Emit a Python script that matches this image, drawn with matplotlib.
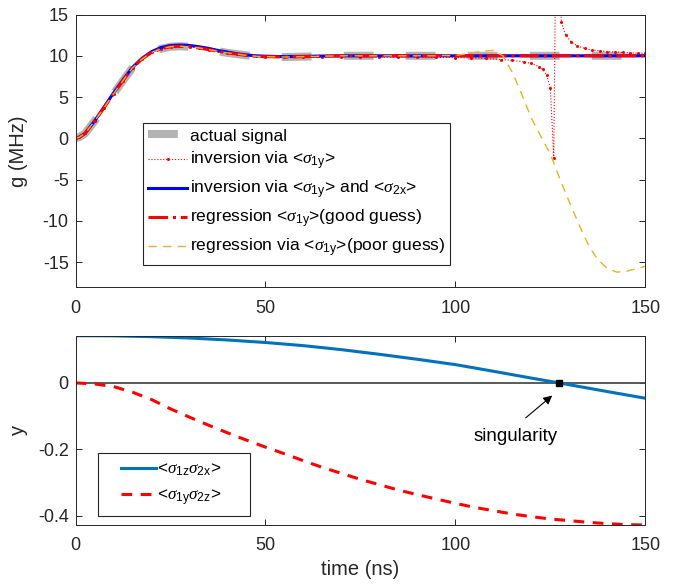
import matplotlib
matplotlib.use('Agg')
import matplotlib.pyplot as plt
from matplotlib.legend_handler import HandlerLine2D

plt.rcParams['font.family'] = ['Liberation Sans', 'DejaVu Sans']
plt.rcParams['mathtext.fontset'] = 'custom'
plt.rcParams['mathtext.rm'] = 'Liberation Sans'
plt.rcParams['mathtext.it'] = 'Liberation Serif:italic'
plt.rcParams['axes.unicode_minus'] = False

# ---- top panel data (ns, MHz) ----
t_act = [0, 1, 2.5, 5, 7.5, 10, 12.5, 15, 17.5, 20, 22.5, 25, 27.5, 30, 32.5, 35, 37.5,
         40, 42.5, 45, 47.5, 50, 55, 60, 65, 70, 80, 90, 100, 110, 120, 130, 140, 150]
g_act = [0, 0.15, 0.6, 2.1, 3.7, 5.4, 7.0, 8.55, 9.6, 10.4, 10.85, 11.1, 11.15, 11.1, 10.95,
         10.75, 10.55, 10.35, 10.2, 10.05, 9.95, 9.9, 9.85, 9.9, 9.95, 10, 10, 10, 10, 10, 10, 10, 10, 10]

t_inv1 = [0, 1, 2.5, 5, 7.5, 10, 12.5, 15, 17.5, 20, 22.5, 25, 27.5, 30, 32.5, 35, 37.5, 40,
          42.5, 45, 47.5, 50, 55, 60, 65, 70, 75, 80, 85, 90, 95, 100, 104, 108, 112, 115,
          118, 120, 122, 123, 124, 125, 125.9, 126.9, 127.9, 129, 130.5, 132, 134, 136, 138,
          140, 142, 144, 146, 148, 150]
g_inv1 = [0, 0.15, 0.6, 2.1, 3.7, 5.4, 7.0, 8.55, 9.6, 10.4, 10.85, 11.1, 11.15, 11.1, 10.95,
          10.75, 10.55, 10.35, 10.2, 10.05, 9.95, 9.9, 9.85, 9.88, 9.9, 9.9, 9.88, 9.86, 9.84,
          9.82, 9.8, 9.78, 9.74, 9.68, 9.55, 9.45, 9.25, 9.08, 8.7, 8.35, 7.7, 6.1, -2.4, 45,
          14.1, 12.5, 11.7, 11.2, 10.9, 10.7, 10.6, 10.5, 10.45, 10.4, 10.35, 10.32, 10.3]

t_fit = [0, 1, 2.5, 5, 7.5, 10, 12.5, 15, 17.5, 20, 22.5, 25, 27.5, 30, 32.5, 35, 37.5, 40,
         42.5, 45, 47.5, 50, 55, 60, 65, 70, 75, 80, 85, 90, 95, 100, 102.5, 105, 107.5, 110,
         112.5, 115, 117.5, 120, 122.5, 125, 127.5, 130, 132.5, 135, 137.5, 140, 142.5, 145,
         147.5, 150]
g_inv2 = [0, 0.15, 0.6, 2.1, 3.8, 5.5, 7.1, 8.6, 9.7, 10.5, 11.0, 11.25, 11.3, 11.25, 11.1,
          10.9, 10.65, 10.45, 10.25, 10.1, 10.0, 9.95, 9.9, 9.93, 9.97, 10, 10, 10, 10, 10, 10,
          10, 10, 10, 10, 10, 10, 10, 10, 10, 10, 10, 10, 10, 10, 10, 10, 10, 10, 10, 10, 10]
g_good = [0, 0.15, 0.6, 2.1, 3.7, 5.4, 7.0, 8.55, 9.6, 10.4, 10.85, 11.1, 11.15, 11.1, 10.95,
          10.75, 10.55, 10.35, 10.2, 10.05, 9.95, 9.9, 9.85, 9.9, 9.95, 10, 10, 10, 10, 10, 10,
          10, 10, 10, 10, 10, 10, 10, 10, 10, 10, 10, 10, 10, 10, 10, 10, 10, 10, 10, 10, 10]
g_poor = [0, 0.15, 0.6, 2.1, 3.7, 5.4, 7.0, 8.55, 9.6, 10.4, 10.85, 11.1, 11.15, 11.1, 10.95,
          10.75, 10.55, 10.35, 10.2, 10.05, 9.95, 9.9, 9.85, 9.9, 9.95, 10, 10, 10, 10, 10, 10,
          10.05, 10.2, 10.4, 10.58, 10.65, 10.0, 8.0, 5.3, 2.45, 0.25, -1.9, -4.9, -7.7, -10.4,
          -12.9, -14.7, -15.75, -16.2, -16.1, -15.8, -15.5]

# ---- bottom panel data ----
t_zx = [0, 10, 20, 30, 40, 50, 60, 70, 80, 90, 100, 110, 120, 127.3, 130, 140, 150]
s1z2x = [0.142, 0.1415, 0.139, 0.135, 0.129, 0.1215, 0.112, 0.1, 0.086, 0.071, 0.055,
         0.035, 0.0145, 0, -0.0055, -0.026, -0.046]
t_yz = [0, 5, 10, 15, 20, 25, 30, 35, 40, 45, 50, 55, 60, 65, 70, 75, 80, 85, 90, 95, 100,
        105, 110, 115, 120, 125, 130, 135, 140, 145, 150]
s1y2z = [0, -0.003, -0.011, -0.028, -0.05, -0.078, -0.103, -0.127, -0.15, -0.172, -0.193,
         -0.213, -0.234, -0.254, -0.272, -0.29, -0.306, -0.322, -0.336, -0.349, -0.362,
         -0.374, -0.384, -0.394, -0.402, -0.409, -0.414, -0.419, -0.423, -0.426, -0.427]
sing_t = 127.3
sing_y = 0


class ShiftedLine(HandlerLine2D):
    # legend line pushed right inside its handle box (extra left margin)
    def __init__(self, shift, **kw):
        super().__init__(**kw)
        self.shift = shift

    def create_artists(self, legend, orig_handle, xdescent, ydescent, width, height,
                       fontsize, trans):
        return super().create_artists(legend, orig_handle, xdescent - self.shift, ydescent,
                                      width - self.shift, height, fontsize, trans)


axc = (0.15, 0.15, 0.15)
fig = plt.figure(figsize=(6.87, 5.85), dpi=100)
ax1 = fig.add_axes([0.110, 0.5094, 0.8293, 0.4658])
ax2 = fig.add_axes([0.110, 0.1026, 0.8293, 0.3236])

ax1.plot(t_act, g_act, color=(0.7, 0.7, 0.7), lw=5.8, dashes=(3.7, 4), solid_capstyle='butt',
         dash_capstyle='butt', label='actual signal')
ax1.plot(t_inv1, g_inv1, color='r', lw=0.8, ls=':', marker='o', ms=2.2, mew=0,
         label='inversion via <$\\sigma_{\\mathrm{1y}}$>')
ax1.plot(t_fit, g_inv2, color='b', lw=2.2,
         label='inversion via <$\\sigma_{\\mathrm{1y}}$> and <$\\sigma_{\\mathrm{2x}}$>')
ax1.plot(t_fit, g_good, color='r', lw=2.2, ls='-.',
         label='regression <$\\sigma_{\\mathrm{1y}}$>(good guess)')
ax1.plot(t_fit, g_poor, color=(0.929, 0.694, 0.125), lw=1.0, dashes=(6, 4.5),
         label='regression via <$\\sigma_{\\mathrm{1y}}$>(poor guess)')
ax1.set_xlim(0, 150)
ax1.set_ylim(-18, 15)
ax1.set_xticks([0, 50, 100, 150])
ax1.set_yticks([-15, -10, -5, 0, 5, 10, 15])
ax1.set_ylabel('g (MHz)', fontsize=14.5)
leg1 = ax1.legend(loc='upper left', bbox_to_anchor=(0.1186, 0.6018), borderaxespad=0,
                  fontsize=12.6, handlelength=2.2, handletextpad=0.15, labelspacing=0.38,
                  fancybox=False, framealpha=1, edgecolor=axc, borderpad=0.3)
leg1.get_frame().set_linewidth(0.8)

ax2.axhline(0, color=(0.3, 0.3, 0.3), lw=1.3)
l_zx, = ax2.plot(t_zx, s1z2x, color=(0, 0.447, 0.741), lw=2.2,
                 label='<$\\sigma_{\\mathrm{1z}}\\sigma_{\\mathrm{2x}}$>     ')
l_yz, = ax2.plot(t_yz, s1y2z, color='r', lw=2.2, dashes=(3.5, 2.8),
                 label='<$\\sigma_{\\mathrm{1y}}\\sigma_{\\mathrm{2z}}$>     ')
ax2.plot([sing_t], [sing_y], 's', color='k', ms=5)
ax2.annotate('', xy=(125.5, -0.038), xytext=(118.5, -0.105),
             arrowprops=dict(arrowstyle='-|>', color='k', lw=0.8, mutation_scale=13,
                             shrinkA=0, shrinkB=0))
ax2.text(115.9, -0.16, 'singularity', ha='center', va='center', fontsize=13.5)
ax2.set_xlim(0, 150)
ax2.set_ylim(-0.427, 0.142)
ax2.set_xticks([0, 50, 100, 150])
ax2.set_yticks([-0.4, -0.2, 0])
ax2.set_yticklabels(['-0.4', '-0.2', '0'])
ax2.set_xlabel('time (ns)', fontsize=14.5)
ax2.set_ylabel('y', fontsize=14.5)
leg2 = ax2.legend(loc='upper left', bbox_to_anchor=(0.0386, 0.380), borderaxespad=0,
                  fontsize=12.3, handlelength=2.9, handletextpad=0.1, labelspacing=0.55,
                  fancybox=False, framealpha=1, edgecolor=axc, borderpad=0.5,
                  handler_map={l_zx: ShiftedLine(11), l_yz: ShiftedLine(11)})
leg2.get_frame().set_linewidth(0.8)

for ax in (ax1, ax2):
    ax.tick_params(direction='in', top=True, right=True, length=4.2, width=0.7,
                   labelsize=13, color=axc, labelcolor=axc, pad=5)
    ax.tick_params(axis='x', pad=9)
    for s in ax.spines.values():
        s.set_color(axc)
        s.set_linewidth(0.7)
    ax.yaxis.label.set_color(axc)
    ax.xaxis.label.set_color(axc)
ax1.yaxis.set_label_coords(-0.083, 0.5)
ax2.yaxis.set_label_coords(-0.083, 0.5)

fig.savefig('out.png', dpi=100)
